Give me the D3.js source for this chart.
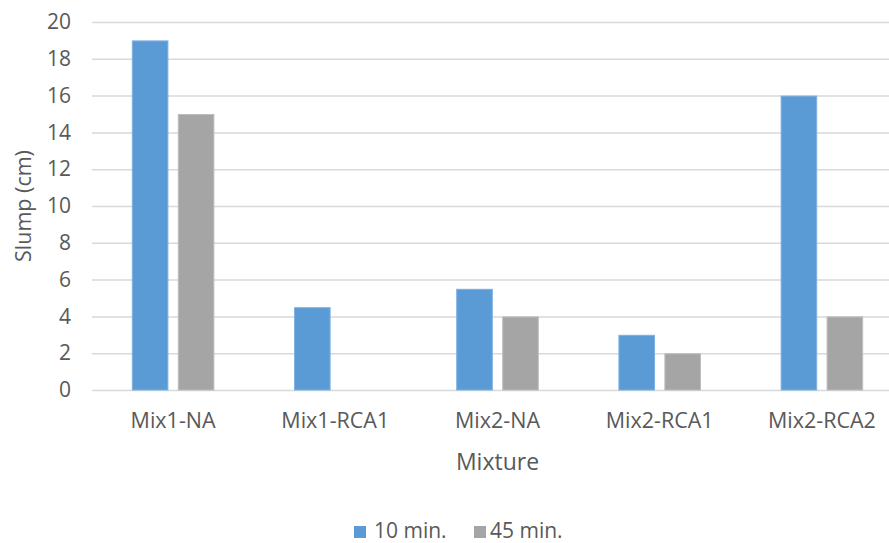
<!DOCTYPE html>
<html><head><meta charset="utf-8">
<script src="https://cdn.jsdelivr.net/npm/d3@7"></script>
<style>
html,body{margin:0;padding:0;background:#fff;}
svg{display:block;font-family:"Open Sans", sans-serif;}
</style></head>
<body>
<svg id="chart" width="889" height="543"></svg>
<script>
const categories = ["Mix1-NA", "Mix1-RCA1", "Mix2-NA", "Mix2-RCA1", "Mix2-RCA2"];
const seriesNames = ["10 min.", "45 min."];
const values10 = [19, 4.5, 5.5, 3, 16];
const values45 = [15, 0, 4, 2, 4];
const yTicks = [0, 2, 4, 6, 8, 10, 12, 14, 16, 18, 20];
const colors = ["#5B9BD5", "#A5A5A5"];
const strokes = ["#7EB1E0", "#BDBDBD"];

(function () {
const svg = d3.select("#chart");
const mLeft = 92, mRight = 903, mTop = 22, mBottom = 390;
const textColor = "#595959";
const font = "'Open Sans', sans-serif";

const y = d3.scaleLinear().domain([0, 20]).range([mBottom, mTop]);
const x0 = d3.scaleBand().domain(categories).range([mLeft, mRight]).paddingInner(0.491).paddingOuter(0.2455);
const x1 = d3.scaleBand().domain(seriesNames).range([0, x0.bandwidth()]).paddingInner(0.204);

// gridlines
const yAxis = d3.axisLeft(y).tickValues(yTicks).tickSize(-(mRight - mLeft)).tickPadding(21);
const gy = svg.append("g").attr("transform", `translate(${mLeft},0)`).call(yAxis);
gy.select(".domain").remove();
gy.selectAll(".tick line").attr("stroke", "#D9D9D9").attr("stroke-width", 1.5);
gy.selectAll(".tick text").attr("fill", textColor).attr("font-size", 21).attr("font-family", font);

// bars
const data = categories.map((c, i) => ({cat: c, vals: [values10[i], values45[i]]}));
const groups = svg.append("g").selectAll("g").data(data).join("g")
  .attr("transform", d => `translate(${x0(d.cat)},0)`);
groups.selectAll("rect")
  .data(d => d.vals.map((v, j) => ({v, s: seriesNames[j], j})).filter(d => d.v > 0))
  .join("rect")
  .attr("x", d => x1(d.s) + 0.5)
  .attr("width", x1.bandwidth() - 1)
  .attr("y", d => y(d.v) + 0.5)
  .attr("height", d => y(0) - y(d.v) - 0.5)
  .attr("fill", d => colors[d.j])
  .attr("stroke", d => strokes[d.j])
  .attr("stroke-width", 1);

// x axis labels
const xAxis = d3.axisBottom(x0).tickSize(0).tickPadding(23);
const gx = svg.append("g").attr("transform", `translate(0,${mBottom})`).call(xAxis);
gx.select(".domain").remove();
gx.selectAll(".tick text").attr("fill", textColor).attr("font-size", 21.5).attr("font-family", font);

// axis titles
svg.append("text").attr("x", (mLeft + mRight) / 2).attr("y", 470)
  .attr("text-anchor", "middle").attr("fill", textColor).attr("font-size", 23).text("Mixture");
svg.append("text").attr("transform", `translate(31,${(mTop + mBottom) / 2}) rotate(-90)`)
  .attr("text-anchor", "middle").attr("fill", textColor).attr("font-size", 21.5).text("Slump (cm)");

// legend
const legendX = [354, 474];
const legendTextOffset = [20, 16];
const lg = svg.append("g");
seriesNames.forEach((s, i) => {
  lg.append("rect").attr("x", legendX[i]).attr("y", 526).attr("width", 12).attr("height", 12).attr("fill", colors[i]);
  lg.append("text").attr("x", legendX[i] + legendTextOffset[i]).attr("y", 538).attr("fill", textColor).attr("font-size", 21).text(s);
});
})();
</script>
</body></html>
